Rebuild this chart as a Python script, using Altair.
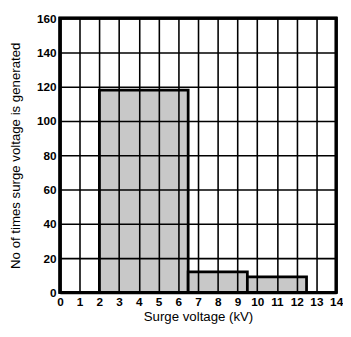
import altair as alt
import pandas as pd

x_start = [2, 6.5, 9.5]
x_end = [6.5, 9.5, 12.5]
counts = [118, 12, 9]

x_ticks = list(range(0, 15))
y_ticks = list(range(0, 161, 20))

df = pd.DataFrame({"x0": x_start, "x1": x_end, "n": counts})

font = "Liberation Sans"
W, H = 282, 280

bars = alt.Chart(df).mark_rect(
    fill="#c8c8c8", stroke="black", strokeWidth=2.8
).encode(
    x=alt.X("x0:Q",
            scale=alt.Scale(domain=[0, 14], nice=False),
            axis=alt.Axis(values=x_ticks, grid=True, gridColor="black", gridWidth=1.6,
                          gridOpacity=1, ticks=False, domainColor="black", domainWidth=2.8,
                          labelFont=font, labelFontSize=12, labelFontWeight="bold",
                          labelColor="black", labelPadding=4, labelFlush=False,
                          title="Surge voltage (kV)", titleFont=font, titleFontSize=13.5,
                          titleFontWeight="normal", titleColor="black", titlePadding=3,
                          zindex=1)),
    x2="x1:Q",
    y=alt.Y("n:Q",
            scale=alt.Scale(domain=[0, 160], nice=False),
            axis=alt.Axis(values=y_ticks, grid=True, gridColor="black", gridWidth=1.6,
                          gridOpacity=1, ticks=False, domainColor="black", domainWidth=2.8,
                          labelFont=font, labelFontSize=12, labelFontWeight="bold",
                          labelColor="black", labelPadding=4, labelFlush=False,
                          title="No of times surge voltage is generated", titleFont=font,
                          titleFontSize=13.5, titleFontWeight="normal", titleColor="black",
                          titleX=-45, titleY=H / 2, titleAngle=-90, titleAlign="center",
                          titleBaseline="middle", zindex=1)),
    y2=alt.datum(0),
)

border = alt.Chart(df).mark_rect(
    fill=None, stroke="black", strokeWidth=2.8
).encode(
    x=alt.value(0), x2=alt.value(W), y=alt.value(0), y2=alt.value(H)
)

chart = alt.layer(bars, border).properties(
    width=W, height=H,
    autosize=alt.AutoSizeParams(type="none"),
    padding={"left": 53, "top": 7, "right": 7, "bottom": 34},
).configure_view(stroke=None).configure(background="white")

chart.save("out.html", embed_options={"renderer": "svg", "actions": False})
